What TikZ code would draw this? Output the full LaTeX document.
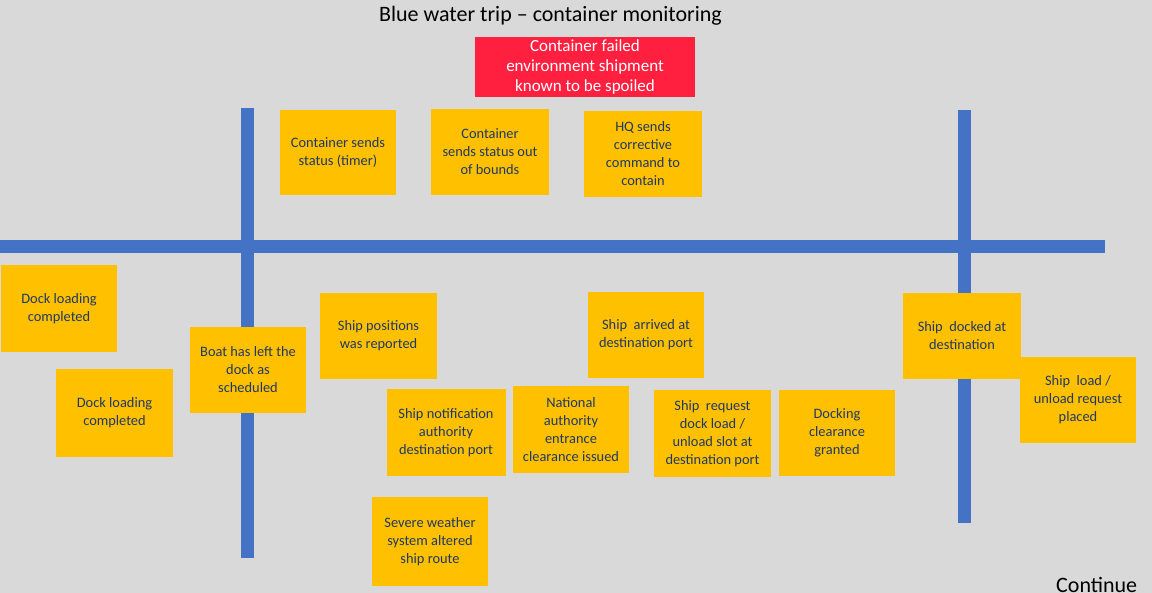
\documentclass[tikz,border=0pt]{standalone}
\usepackage{fontspec}
\setmainfont{Carlito}
\definecolor{bg}{HTML}{D9D9D9}
\definecolor{sticky}{HTML}{FFC000}
\definecolor{navy}{HTML}{203864}
\definecolor{axis}{HTML}{4472C4}
\definecolor{alert}{HTML}{FF2040}
\tikzset{
  note/.style={fill=sticky, draw=none, minimum width=116pt, minimum height=86pt, inner sep=2pt,
    text=navy, align=center, font=\fontsize{14.4}{18}\selectfont},
  alertbox/.style={fill=alert, draw=none, minimum width=220pt, minimum height=60pt, inner sep=2pt,
    text=white, align=center, font=\fontsize{17}{20}\selectfont},
  axisline/.style={draw=axis, line width=13pt},
  heading/.style={text=black, font=\fontsize{22}{26}\selectfont, inner sep=0pt}
}
\begin{document}
\begin{tikzpicture}[x=1pt,y=-1pt]
\fill[bg] (0,0) rectangle (1152,593);
\useasboundingbox (0,0) rectangle (1152,593);
% timeline axes
\draw[axisline] (0,247) -- (1105,247);
\draw[axisline] (247.5,108) -- (247.5,558);
\draw[axisline] (964.5,110) -- (964.5,523);
% title
\node[heading, anchor=base] (title) at (550.5,22) {Blue water trip – container monitoring};
\node[alertbox] (spoiled) at (585,67) {Container failed\\environment shipment\\known to be spoiled};
% above the line
\node[note, minimum height=85pt] (status) at (338,152.5) {Container sends\\status (timer)};
\node[note, minimum width=118pt] (outbounds) at (490,152) {Container\\sends status out\\of bounds};
\node[note, minimum width=118pt] (hq) at (643,154) {HQ sends\\corrective\\command to\\contain};
% below the line
\node[note, minimum height=87pt] (dock1) at (59,308.5) {Dock loading\\completed};
\node[note, minimum width=117pt, minimum height=88pt] (dock2) at (114.5,413) {Dock loading\\completed};
\node[note] (boat) at (248,370) {Boat has left the\\dock as\\scheduled};
\node[note, minimum width=117pt] (positions) at (378.5,336) {Ship positions\\was reported};
\node[note] (arrived) at (646,335) {Ship\ \ arrived at\\destination port};
\node[note, minimum width=118pt] (docked) at (962,336) {Ship\ \ docked at\\destination};
\node[note] (loadreq) at (1078,400) {Ship\ \ load /\\unload request\\placed};
\node[note, minimum width=119pt, minimum height=87pt] (notif) at (446,433) {Ship notification\\authority\\destination port};
\node[note, minimum height=87pt] (national) at (571,429.5) {National\\authority\\entrance\\clearance issued};
\node[note, minimum width=117pt, minimum height=87pt] (slot) at (712.5,433.5) {Ship\ \ request\\dock load /\\unload slot at\\destination port};
\node[note] (clearance) at (837,433) {Docking\\clearance\\granted};
\node[note, minimum height=89pt] (weather) at (430,541.5) {Severe weather\\system altered\\ship route};
% continue
\node[heading, anchor=base west] (cont) at (1056,592.5) {Continue};
\end{tikzpicture}
\end{document}
